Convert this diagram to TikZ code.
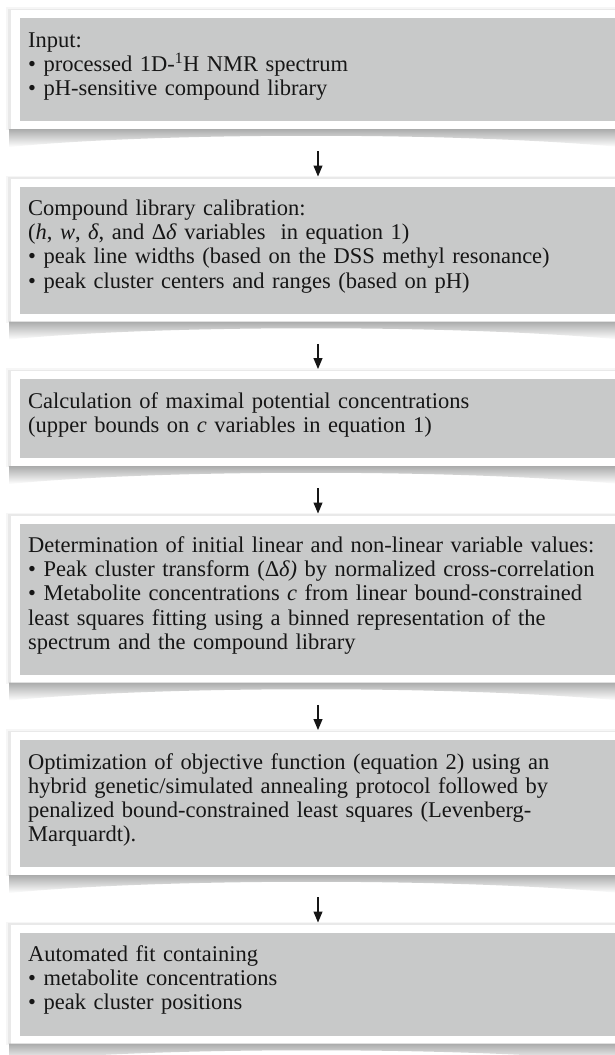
\documentclass[tikz,border=0pt]{standalone}
\usepackage{fontspec}
\setmainfont{Liberation Serif}
\usetikzlibrary{arrows.meta}
\definecolor{boxgray}{RGB}{200,201,201}
\definecolor{txt}{RGB}{22,22,22}
\definecolor{curl}{RGB}{170,171,171}
\newcommand{\panelbg}[2]{%
  \fill[black, opacity=0.035] (6,#1-11) rectangle (620,#2+9);
  \fill[black, opacity=0.05] (8,#1-9.5) rectangle (620,#2+8.5);
  \fill[white] (10.5,#1-8) rectangle (620,#2+8);
  \shade[top color=curl, bottom color=white] (9,#2+8) -- (620,#2+8) -- (620,#2+26) .. controls (460,#2+11) and (160,#2+11) .. (9,#2+26) -- cycle;
}
\begin{document}
\begin{tikzpicture}[x=1pt,y=-1pt,
  graybox/.style={fill=boxgray, draw=none, inner sep=0pt, anchor=north west, minimum width=610pt},
  txtnode/.style={anchor=base west, inner sep=0pt, text width=600pt, align=left, font=\fontsize{22.5}{24.2}\selectfont, text=txt},
  arr/.style={-{Triangle[length=11pt,width=9pt]}, line width=1.1pt, draw=txt, shorten <=30pt, shorten >=10pt}]
\useasboundingbox (0,0) rectangle (615,1055);
\begin{scope}
\clip (0,0) rectangle (615,1055);
\fill[white] (0,0) rectangle (615,1055);
\panelbg{18}{121}
\panelbg{186.5}{313.5}
\panelbg{379}{458}
\panelbg{523.5}{674.5}
\panelbg{740}{867}
\panelbg{932.5}{1035.5}
\node[graybox, minimum height=103pt] (b1) at (20,18) {};
\node[graybox, minimum height=127pt] (b2) at (20,186.5) {};
\node[graybox, minimum height=79pt] (b3) at (20,379) {};
\node[graybox, minimum height=151pt] (b4) at (20,523.5) {};
\node[graybox, minimum height=127pt] (b5) at (20,740) {};
\node[graybox, minimum height=103pt] (b6) at (20,932.5) {};
\end{scope}
\node[txtnode] (t1) at (28,47) {Input:\\
• processed 1D-\textsuperscript{1}H NMR spectrum\\
• pH-sensitive compound library};
\node[txtnode] (t2) at (28,215.5) {Compound library calibration:\\
(\textit{h}, \textit{w}, \textit{δ}, and Δ\textit{δ} variables\ \ in equation 1)\\
• peak line widths (based on the DSS methyl resonance)\\
• peak cluster centers and ranges (based on pH)};
\node[txtnode] (t3) at (28,408) {Calculation of maximal potential concentrations\\
(upper bounds on \textit{c} variables in equation 1)};
\node[txtnode] (t4) at (28,552.5) {Determination of initial linear and non-linear variable values:\\
• Peak cluster transform (Δ\textit{δ)} by normalized cross-correlation\\
• Metabolite concentrations \textit{c} from linear bound-constrained\\
least squares fitting using a binned representation of the\\
spectrum and the compound library};
\node[txtnode] (t5) at (28,769) {Optimization of objective function (equation 2) using an\\
hybrid genetic/simulated annealing protocol followed by\\
penalized bound-constrained least squares (Levenberg-\\
Marquardt).};
\node[txtnode] (t6) at (28,961.5) {Automated fit containing\\
• metabolite concentrations\\
• peak cluster positions};
\coordinate (ax) at (318,0);
\draw[arr] (b1.south -| ax) -- (b2.north -| ax);
\draw[arr] (b2.south -| ax) -- (b3.north -| ax);
\draw[arr] (b3.south -| ax) -- (b4.north -| ax);
\draw[arr] (b4.south -| ax) -- (b5.north -| ax);
\draw[arr] (b5.south -| ax) -- (b6.north -| ax);
\end{tikzpicture}
\end{document}
